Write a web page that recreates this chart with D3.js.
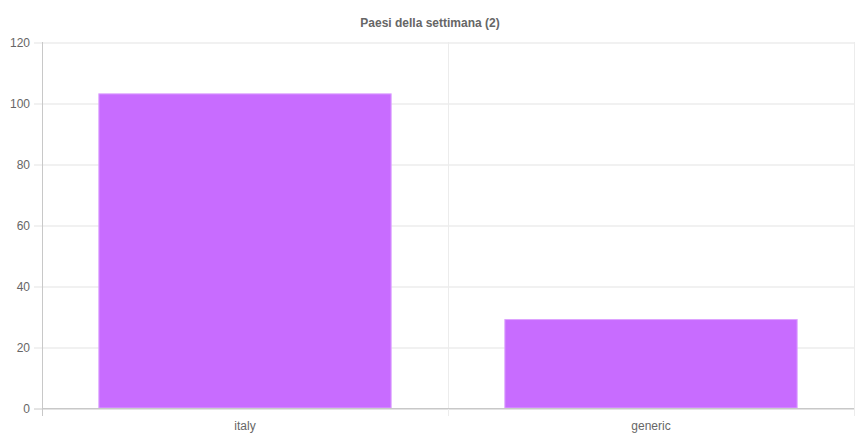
<!DOCTYPE html>
<html>
<head>
<meta charset="utf-8">
<script src="https://cdn.jsdelivr.net/npm/d3@7"></script>
<style>
  html, body { margin: 0; padding: 0; background: #fff; }
  svg { display: block; font-family: "Liberation Sans", Arial, Helvetica, sans-serif; }
</style>
</head>
<body>
<div id="chart"></div>
<script>
// chart data
var title = "Paesi della settimana (2)";
var categories = ["italy", "generic"];
var values = [103, 29];
var yTicks = [0, 20, 40, 60, 80, 100, 120];

;(function(){
  var width = 860, height = 443;
  var margin = {top: 42, right: 6, bottom: 35, left: 42};
  var plotW = width - margin.left - margin.right,
      plotH = height - margin.top - margin.bottom;

  var svg = d3.select("#chart").append("svg")
    .attr("width", width)
    .attr("height", height);

  svg.append("text")
    .attr("x", width / 2)
    .attr("y", 27)
    .attr("text-anchor", "middle")
    .style("font-size", "12px")
    .style("font-weight", "bold")
    .style("fill", "#666")
    .text(title);

  var g = svg.append("g")
    .attr("transform", "translate(" + margin.left + "," + margin.top + ")");

  var x = d3.scaleBand().domain(categories).range([0, plotW]);
  var y = d3.scaleLinear().domain([0, 120]).range([plotH, 0]);

  // horizontal grid + y ticks
  var yAxis = d3.axisLeft(y).tickValues(yTicks).tickSize(-plotW).tickPadding(12);
  var yg = g.append("g").call(yAxis);
  yg.select(".domain").remove();
  yg.selectAll(".tick line")
    .attr("x1", -8)
    .attr("stroke", function(d){ return d === 0 ? "#c8c8c8" : "#e3e3e3"; })
    .attr("transform", "translate(0,0.5)");
  yg.selectAll(".tick text")
    .style("font-size", "12px")
    .style("fill", "#666")
    .attr("dy", "0.35em")
    .attr("x", -12);

  // vertical grid lines between categories
  var xBounds = [0].concat(categories.map(function(c){ return x(c) + x.bandwidth(); }));
  g.selectAll(".vgrid").data(xBounds).enter().append("line")
    .attr("class", "vgrid")
    .attr("x1", function(d){ return Math.round(d) + 0.5; })
    .attr("x2", function(d){ return Math.round(d) + 0.5; })
    .attr("y1", 0)
    .attr("y2", plotH + 8)
    .attr("stroke", function(d, i){ return i === 0 ? "#c8c8c8" : "#ececec"; });

  // bars (72% of category, like default bar charts)
  var bw = x.bandwidth() * 0.72;
  g.selectAll(".bar").data(values).enter().append("rect")
    .attr("class", "bar")
    .attr("x", function(d, i){ return x(categories[i]) + (x.bandwidth() - bw) / 2; })
    .attr("y", function(d){ return y(d); })
    .attr("width", bw)
    .attr("height", function(d){ return plotH - y(d); })
    .attr("fill", "#c86cff")
    .attr("stroke", "#dda3ff")
    .attr("stroke-width", 1);

  // redraw zero line above bars
  g.append("line")
    .attr("x1", 0).attr("x2", plotW)
    .attr("y1", y(0) + 0.5).attr("y2", y(0) + 0.5)
    .attr("stroke", "#c8c8c8");

  // x labels
  g.selectAll(".xlabel").data(categories).enter().append("text")
    .attr("class", "xlabel")
    .attr("x", function(d){ return x(d) + x.bandwidth() / 2; })
    .attr("y", plotH + 22)
    .attr("text-anchor", "middle")
    .style("font-size", "12px")
    .style("fill", "#666")
    .text(function(d){ return d; });
})();
</script>
</body>
</html>
